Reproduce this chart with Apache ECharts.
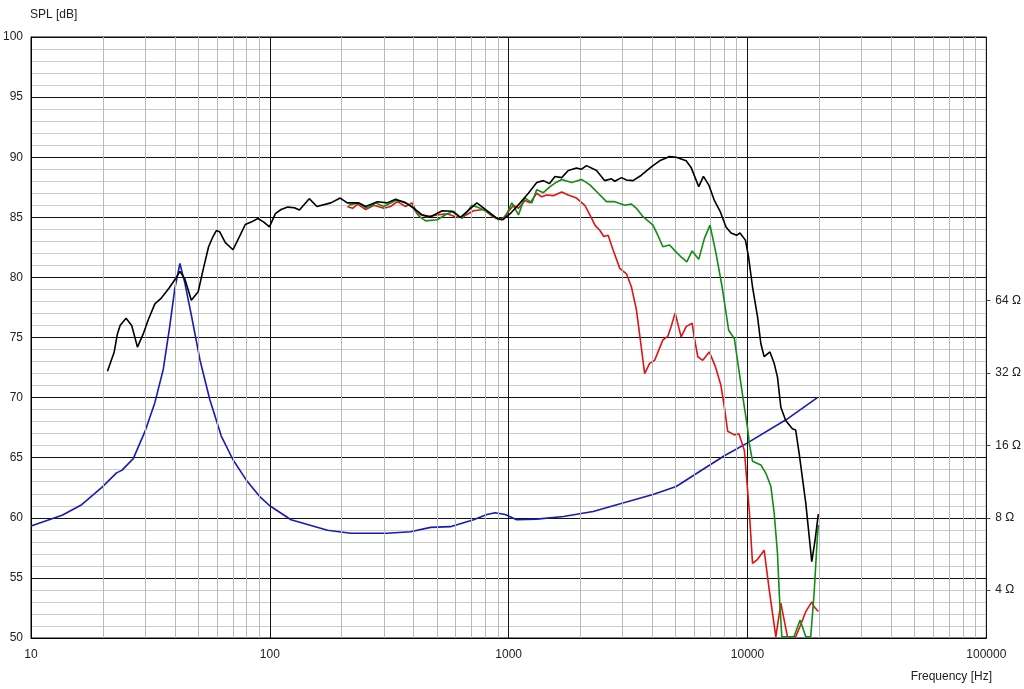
<!DOCTYPE html>
<html>
<head>
<meta charset="utf-8">
<script src="https://cdn.jsdelivr.net/npm/echarts@6/dist/echarts.min.js"></script>
<style>
html,body{margin:0;padding:0;background:#fff;}
#chart{width:1024px;height:689px;}
</style>
</head>
<body>
<div id="chart"></div>
<script>
// ---- data ----
const xTickLabels = ['10', '100', '1000', '10000', '100000'];
const impedanceTicks = [4, 8, 16, 32, 64];

const freqBlack = [20.9,22.3,23.0,23.6,25.0,26.4,27.9,29.5,31.0,33.0,35.2,37.8,40.0,42.0,44.0,46.9,50.1,52.5,55.4,57.8,59.7,61.6,65.1,70.1,74.6,78.9,83.5,89.1,94.3,99.6,105.5,111.4,118.8,126.6,133,146.2,157.4,180.1,197,211,236,252,282,310,336,370,401,434,471,527,580,628,680,736,811,893,946,1015,1117,1209,1311,1397,1479,1563,1667,1776,1923,2018,2118,2332,2526,2694,2780,2965,3112,3315,3594,3955,4285,4716,5029,5534,5803,6248,6538,6878,7265,7676,8128,8531,9004,9297,9800,10100,10496,11020,11370,11740,12410,12930,13350,13790,14450,15410,15910,16440,17540,18580,19180,19790];
const splBlack = [72.2,73.8,75.3,76.0,76.6,76.0,74.2,75.3,76.5,77.8,78.3,79.1,79.8,80.5,79.9,78.1,78.8,80.6,82.55,83.4,83.9,83.8,82.9,82.3,83.4,84.4,84.6,84.9,84.6,84.2,85.3,85.65,85.85,85.8,85.6,86.55,85.9,86.2,86.6,86.2,86.2,85.9,86.3,86.2,86.5,86.2,85.75,85.2,85.05,85.55,85.5,85.0,85.6,86.2,85.55,84.9,84.8,85.3,86.2,87.0,87.9,88.05,87.8,88.4,88.3,88.9,89.1,89.0,89.3,88.9,88.05,88.2,88.0,88.3,88.1,88.05,88.5,89.2,89.7,90.05,90.0,89.7,89.15,87.55,88.4,87.7,86.4,85.5,84.2,83.7,83.5,83.7,83.1,81.7,79.2,76.7,74.5,73.4,73.8,72.85,71.7,69.2,68.1,67.4,67.3,65.4,61.2,56.35,58.15,60.3];

const freqRed = [211,222,233,252,273,300,320,342,370,394,414,456,502,553,598,638,713,785,865,937,1047,1099,1172,1229,1311,1375,1443,1538,1667,1776,1923,2084,2188,2297,2411,2503,2608,2735,2918,3112,3266,3427,3558,3710,3891,4083,4422,4638,4786,4977,5272,5534,5861,5998,6191,6494,6918,7330,7740,8000,8260,8810,9200,9700,10170,10496,11020,11740,12330,13140,13790,14700,15910,16700,17540,18580,19000,19790];
const splRed = [85.9,85.75,86.1,85.65,86.0,85.75,85.9,86.3,85.9,86.2,85.3,85.05,85.2,85.3,85.05,85.0,85.55,85.65,85.0,84.8,86.0,85.75,86.4,86.2,87.0,86.7,86.85,86.8,87.1,86.85,86.6,86.0,85.2,84.35,83.9,83.4,83.5,82.3,80.75,80.3,79.2,77.3,74.8,72.0,72.85,73.1,74.8,75.1,75.9,77.05,75.05,75.9,76.2,74.9,73.4,73.1,73.8,72.6,71.0,69.2,67.2,66.9,67.0,65.6,60.6,56.2,56.55,57.3,54.0,50.1,52.9,50.1,50.1,51.1,52.2,53.0,52.6,52.2];

const freqGreen = [214,233,256,277,300,336,364,394,421,449,502,553,588,638,702,760,824,908,967,1031,1099,1154,1172,1250,1311,1397,1490,1579,1667,1834,2018,2188,2370,2568,2780,3062,3266,3427,3651,4019,4214,4422,4716,5029,5272,5569,5861,6248,6601,6966,7380,7830,8340,8810,9200,9700,10000,10170,10496,11370,11940,12530,12930,13350,13580,13920,15650,16600,17540,18390,19000,19610,19790];
const splGreen = [86.0,86.2,85.75,86.2,85.9,86.4,86.3,85.9,85.1,84.7,84.8,85.3,85.5,84.9,86.0,85.75,85.4,84.8,85.0,86.2,85.2,86.4,86.6,86.2,87.3,87.05,87.55,87.9,88.15,87.9,88.15,87.7,87.0,86.3,86.3,86.0,86.1,85.75,85.05,84.35,83.5,82.55,82.7,82.1,81.7,81.3,82.2,81.5,83.25,84.35,82.0,79.2,75.6,74.9,72.3,69.2,67.5,66.2,64.7,64.4,63.7,62.6,60.4,57.05,53.7,50.1,50.1,51.5,50.1,50.1,53.7,58.4,59.4];

const freqImp = [10,13.5,16.3,19.8,22.8,24.0,26.8,30.0,33.0,35.8,38.1,40.0,42.0,44.0,46.9,51.0,56.0,62.6,70.1,79.6,90.5,99.6,122.6,174.4,218,310,388,471,570,713,811,878,967,1080,1311,1696,2258,3112,4019,5029,6494,8000,10000,14540,19610];
const ohmImp = [7.4,8.2,9.07,10.7,12.3,12.6,14.1,18.3,24.1,33.2,50.2,71.8,91.4,76.3,55.8,36.2,24.9,17.5,13.95,11.5,9.83,9.0,7.85,7.1,6.9,6.9,7.0,7.3,7.35,7.85,8.25,8.4,8.25,7.85,7.9,8.1,8.5,9.3,10.0,10.8,12.7,14.5,16.4,20.5,25.3];

// ---- build ----
const zip = (a, b) => a.map((v, i) => [v, b[i]]);
const minorFreqs = [];
for (let d = 10; d < 100000; d *= 10) {
  for (let k = 2; k <= 9; k++) minorFreqs.push(d * k);
}
const FONT = 'Liberation Sans, Arial, sans-serif';
const chart = echarts.init(document.getElementById('chart'));

const lineBase = {
  type: 'line', showSymbol: false, symbol: 'none', smooth: false, clip: true,
  animation: false
};

chart.setOption({
  animation: false,
  backgroundColor: '#ffffff',
  title: [
    { text: 'SPL [dB]', left: 30, top: 9, padding: 0,
      textStyle: { fontSize: 12, fontWeight: 'normal', color: '#222', fontFamily: FONT } },
    { text: 'Frequency [Hz]', right: 32, top: 671, padding: 0,
      textStyle: { fontSize: 12, fontWeight: 'normal', color: '#222', fontFamily: FONT } }
  ],
  grid: { left: 29, top: 37, width: 959, height: 601, show: true,
          borderColor: '#000', borderWidth: 1, backgroundColor: 'transparent' },
  xAxis: {
    type: 'log', logBase: 10, min: 10, max: 100000,
    axisLine: { show: true, lineStyle: { color: '#000', width: 1 } },
    axisTick: { show: false },
    axisLabel: {
      fontSize: 12, color: '#222', fontFamily: FONT, margin: 11,
      formatter: v => xTickLabels[Math.round(Math.log10(v)) - 1]
    },
    splitLine: { show: true, lineStyle: { color: '#111', width: 1 } }
  },
  yAxis: [
    {
      type: 'value', min: 50, max: 100, interval: 5,
      axisLine: { show: true, lineStyle: { color: '#000', width: 1 } },
      axisTick: { show: false },
      axisLabel: { fontSize: 12, color: '#222', fontFamily: FONT, margin: 8 },
      splitLine: { show: true, lineStyle: { color: '#111', width: 1 } },
      minorTick: { show: false, splitNumber: 5 },
      minorSplitLine: { show: true, lineStyle: { color: '#cdcdcd', width: 1 } }
    },
    {
      type: 'log', logBase: 2, min: 8 / Math.sqrt(10), max: 800,
      position: 'right',
      axisLine: { show: false },
      axisTick: { show: true, length: 4, inside: false, customValues: impedanceTicks,
                  lineStyle: { color: '#444', width: 1 } },
      axisLabel: { show: true, customValues: impedanceTicks, fontSize: 12, color: '#222',
                   fontFamily: FONT, margin: 9,
                   formatter: v => Math.round(v) + ' \u03A9' },
      splitLine: { show: false }
    }
  ],
  series: [
    {
      type: 'line', data: [], z: 1, silent: true,
      markLine: {
        silent: true, animation: false, symbol: ['none', 'none'],
        label: { show: false },
        lineStyle: { color: '#b9b9b9', width: 1, type: 'solid' },
        emphasis: { disabled: true },
        data: minorFreqs.map(f => ({ xAxis: f }))
      }
    },
    Object.assign({}, lineBase, { name: 'Impedance', yAxisIndex: 1, data: zip(freqImp, ohmImp),
      lineStyle: { color: '#1a1ab4', width: 1.6 }, z: 3 }),
    Object.assign({}, lineBase, { name: 'red', data: zip(freqRed, splRed),
      lineStyle: { color: '#e01414', width: 1.6 }, z: 4 }),
    Object.assign({}, lineBase, { name: 'green', data: zip(freqGreen, splGreen),
      lineStyle: { color: '#128c12', width: 1.6 }, z: 5 }),
    Object.assign({}, lineBase, { name: 'black', data: zip(freqBlack, splBlack),
      lineStyle: { color: '#000000', width: 1.6 }, z: 6 })
  ]
});
</script>
</body>
</html>
